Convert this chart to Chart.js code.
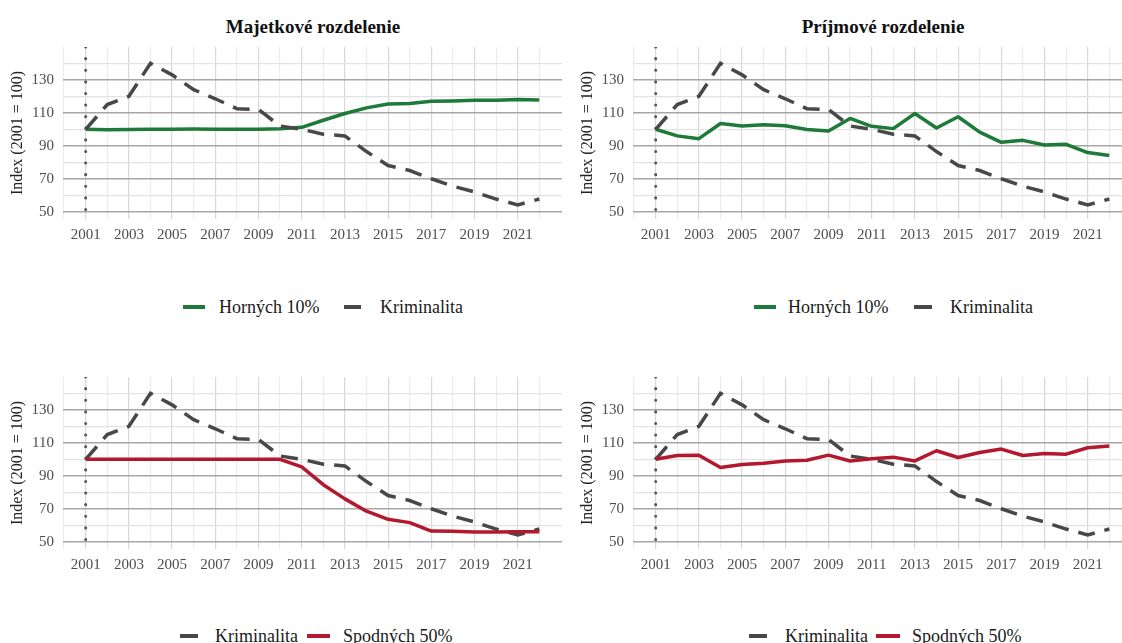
<!DOCTYPE html>
<html><head><meta charset="utf-8">
<script src="https://cdn.jsdelivr.net/npm/chart.js@4.4.1/dist/chart.umd.min.js"></script>
<style>
html,body{margin:0;padding:0;background:#fff;width:1122px;height:643px;overflow:hidden;position:relative;font-family:"Liberation Serif",serif;}
.panel{position:absolute;}
.title{position:absolute;font-weight:bold;font-size:19px;text-align:center;color:#111;width:500px;line-height:24px;}
.lg{position:absolute;font-size:18px;color:#1a1a1a;line-height:22px;white-space:nowrap;}
.key{position:absolute;height:4px;}
</style></head><body>
<div class="title" style="left:63px;top:15px;">Majetkové rozdelenie</div>
<div class="title" style="left:633px;top:15px;">Príjmové rozdelenie</div>
<canvas id="c1" class="panel" width="562" height="220" style="left:0px;top:29px;"></canvas>
<canvas id="c2" class="panel" width="562" height="220" style="left:570px;top:29px;"></canvas>
<canvas id="c3" class="panel" width="562" height="220" style="left:0px;top:359px;"></canvas>
<canvas id="c4" class="panel" width="562" height="220" style="left:570px;top:359px;"></canvas>
<div id="legends"></div>
<script>
// ---- data ----
const years = [2001,2002,2003,2004,2005,2006,2007,2008,2009,2010,2011,2012,2013,2014,2015,2016,2017,2018,2019,2020,2021,2022];
const crime = [100,115,120,140,133,124,118.5,112.5,112,102,100,97,96,86.5,78,75,70,65.5,62,57.7,54.2,57.7];
const wealthTop10 = [100,99.7,99.8,100,100,100.1,100,100,100,100.3,101.2,105.5,109.6,113,115.3,115.7,117,117.2,117.6,117.6,118,117.7];
const incomeTop10 = [100,96,94.3,103.5,102,102.7,102.1,99.9,99,106.6,101.8,100.4,109.6,100.8,107.6,98.3,92.1,93.3,90.5,90.9,85.9,84.1];
const wealthBottom50 = [100,100,100,100,100,100,100,100,100,100,95.4,84.6,76,68.5,63.6,61.6,56.5,56.3,55.9,55.9,56,56];
const incomeBottom50 = [100,102.3,102.5,95,96.8,97.6,99,99.4,102.5,99,100.3,101.3,99,105.2,101.1,104.1,106.2,102.3,103.5,103.1,107,108];
const xGridYears = [2000,2001,2002,2003,2004,2005,2006,2007,2008,2009,2010,2011,2012,2013,2014,2015,2016,2017,2018,2019,2020,2021,2022];
const xLabels = [2001,2003,2005,2007,2009,2011,2013,2015,2017,2019,2021];
const yGrid = [50,60,70,80,90,100,110,120,130,140];
const yLabels = [50,70,90,110,130];
const baseYear = 2001;
const yMin = 45.6, yMax = 149.9, xMin = 1999.95, xMax = 2023.05;

const GREEN = '#1e7a38', RED = '#b4182f', GREY = '#484848';
const FONT = '"Liberation Serif", serif';

function pts(vals){ return years.map((y,i)=>({x:y,y:vals[i]})); }

function makePanel(id, series, label, color, crimeOnTop){
  const crimeDs = {label:'Kriminalita', data:pts(crime), borderColor:GREY, borderWidth:3.5,
    borderDash:[17,10], borderCapStyle:'butt', pointRadius:0, tension:0, order: crimeOnTop?0:1};
  const mainDs = {label:label, data:pts(series), borderColor:color, borderWidth:3.5,
    borderJoinStyle:'round', borderCapStyle:'butt', pointRadius:0, tension:0, order: crimeOnTop?1:0};
  const vline = {label:'', data:[{x:baseYear,y:yMax},{x:baseYear,y:yMin}], borderColor:'#555',
    borderWidth:3, borderDash:[0.1,11.5], borderCapStyle:'round', pointRadius:0, order:5};
  new Chart(document.getElementById(id), {
    type:'line',
    data:{datasets:[crimeDs, mainDs, vline]},
    options:{
      responsive:false, animation:false, devicePixelRatio:1,
      layout:{padding:{top:7,left:0,right:0,bottom:0}},
      plugins:{legend:{display:false}, tooltip:{enabled:false}},
      scales:{
        x:{type:'linear', min:xMin, max:xMax,
          afterBuildTicks:s=>{s.ticks = xGridYears.map(v=>({value:v}));},
          afterFit:s=>{s.height = 30;},
          border:{display:false},
          grid:{drawTicks:false, lineWidth:1.2,
            color:c=> (c.tick && xLabels.includes(c.tick.value)) ? '#d8d8d8' : '#ececec'},
          ticks:{autoSkip:false, maxRotation:0, minRotation:0, padding:7, color:'#4d4d4d',
            font:{family:FONT, size:15},
            callback:v=> xLabels.includes(v) ? String(v) : ''}
        },
        y:{type:'linear', min:yMin, max:yMax,
          afterBuildTicks:s=>{s.ticks = yGrid.map(v=>({value:v}));},
          afterFit:s=>{s.width = 63;},
          border:{display:false},
          grid:{drawTicks:false,
            lineWidth:c=> (c.tick && yLabels.includes(c.tick.value)) ? 1.6 : 1.2,
            color:c=> (c.tick && yLabels.includes(c.tick.value)) ? '#a6a6a6' : '#e2e2e2'},
          ticks:{autoSkip:false, padding:9, color:'#4d4d4d', font:{family:FONT, size:15},
            callback:v=> yLabels.includes(v) ? String(v) : ''},
          title:{display:true, text:'Index (2001 = 100)', color:'#222',
            font:{family:FONT, size:16}, padding:{top:8,bottom:0}}
        }
      }
    }
  });
}
makePanel('c1', wealthTop10, 'Horných 10%', GREEN, true);
makePanel('c2', incomeTop10, 'Horných 10%', GREEN, true);
makePanel('c3', wealthBottom50, 'Spodných 50%', RED, false);
makePanel('c4', incomeBottom50, 'Spodných 50%', RED, false);

// ---- legends ----
const legendItems = [
  {cy:307, items:[{k:183,w:22,c:GREEN,t:219,txt:'Horných 10%'},{k:344,w:17,c:GREY,t:380,txt:'Kriminalita'}]},
  {cy:307, items:[{k:754,w:22,c:GREEN,t:788,txt:'Horných 10%'},{k:914,w:18,c:GREY,t:950,txt:'Kriminalita'}]},
  {cy:636, items:[{k:180,w:18,c:GREY,t:215,txt:'Kriminalita'},{k:307,w:23,c:RED,t:343,txt:'Spodných 50%'}]},
  {cy:636, items:[{k:749,w:18,c:GREY,t:785,txt:'Kriminalita'},{k:876,w:24,c:RED,t:912,txt:'Spodných 50%'}]}
];
const lgRoot = document.getElementById('legends');
legendItems.forEach(g=>g.items.forEach(it=>{
  const k = document.createElement('div'); k.className='key';
  k.style.left=it.k+'px'; k.style.top=(g.cy-2)+'px'; k.style.width=it.w+'px'; k.style.background=it.c;
  lgRoot.appendChild(k);
  const t = document.createElement('div'); t.className='lg';
  t.style.left=it.t+'px'; t.style.top=(g.cy-11)+'px'; t.textContent=it.txt;
  lgRoot.appendChild(t);
}));
</script>
</body></html>
